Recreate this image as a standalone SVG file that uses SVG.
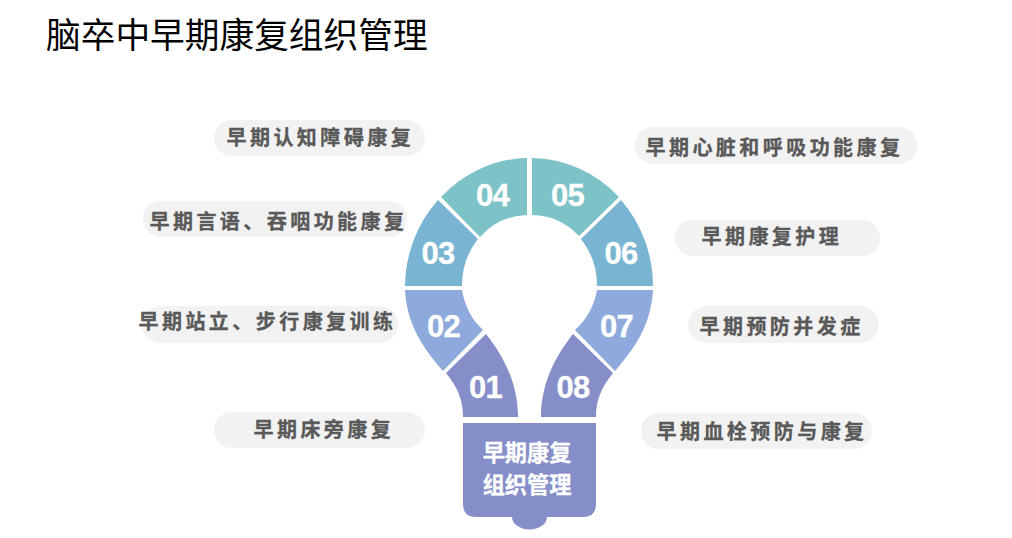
<svg xmlns="http://www.w3.org/2000/svg" width="1012" height="538" viewBox="0 0 1012 538">
<style>
.title{font-family:"Noto Sans CJK SC","Noto Sans",sans-serif;font-size:34.7px;fill:#000}
.pill{fill:#f2f2f2}
.lab{font-family:"Noto Sans CJK SC","Noto Sans",sans-serif;font-size:20px;font-weight:700;letter-spacing:3.45px;fill:#595959;stroke:#595959;stroke-width:.3px}
.num{font-family:"Liberation Sans",Arial,sans-serif;font-size:31px;font-weight:700;letter-spacing:-.7px;fill:#fff;stroke:#fff;stroke-width:.3px}
.core{font-family:"Noto Sans CJK SC","Noto Sans",sans-serif;font-size:22.2px;font-weight:700;fill:#fff;stroke:#fff;stroke-width:.3px;text-anchor:middle}
.c1{fill:#858EC8}.c2{fill:#8EA9DB}.c3{fill:#79B5D2}.c4{fill:#7CC2C7}
</style>
<rect width="1012" height="538" fill="#fff"/>
<text class="title" x="46" y="48">脑卒中早期康复组织管理</text>
<g id="bulb-base">
<path class="c1" d="M463 423H596V504Q596 517 583 517H547A17.5 12.5 0 0 1 512 517H476Q463 517 463 504Z"/>
<text class="core" x="527" y="461">早期康复</text>
<text class="core" x="527" y="493">组织管理</text>
</g>
<g id="node-01">
<path class="c1" d="M486 334L446 373C458 388 463 400 463 417H518C518 385 505 358 486 334Z"/>
<text class="num" x="469" y="398">01</text>
<rect class="pill" x="214" y="412" width="211" height="36" rx="18"/>
<text class="lab" x="253.500" y="437">早期床旁康复</text>
</g>
<g id="node-02">
<path class="c2" d="M405 290C407 325 423 348 443 371L483 330C472 320 465 307 462 290Z"/>
<text class="num" x="427" y="337">02</text>
<rect class="pill" x="142" y="306" width="256" height="37" rx="18.5"/>
<text class="lab" x="138.500" y="329">早期站立、步行康复训练</text>
</g>
<g id="node-03">
<path class="c3" d="M438 200A124 129 0 0 0 405 286H462A67.5 72 0 0 1 478 239Z"/>
<text class="num" x="421.500" y="264">03</text>
<rect class="pill" x="143" y="201" width="264" height="36" rx="18"/>
<text class="lab" x="149.500" y="229">早期言语、吞咽功能康复</text>
</g>
<g id="node-04">
<path class="c4" d="M527 158A124 129 0 0 0 441 197L480 237A67.500 72 0 0 1 527 215Z"/>
<text class="num" x="476" y="206">04</text>
<rect class="pill" x="214" y="120" width="211" height="36" rx="18"/>
<text class="lab" x="226.500" y="145">早期认知障碍康复</text>
</g>
<g id="node-05">
<path class="c4" d="M532 158A124 129 0 0 1 619 197L579 236A67.500 72 0 0 0 532 215Z"/>
<text class="num" x="551" y="206">05</text>
<rect class="pill" x="635" y="127" width="282" height="37" rx="18.5"/>
<text class="lab" x="645.500" y="155">早期心脏和呼吸功能康复</text>
</g>
<g id="node-06">
<path class="c3" d="M621 200A124 129 0 0 1 653 286H597A67.500 72 0 0 0 581 239Z"/>
<text class="num" x="604.500" y="264">06</text>
<rect class="pill" x="675" y="220" width="205" height="36" rx="18"/>
<text class="lab" x="701.500" y="244">早期康复护理</text>
</g>
<g id="node-07">
<path class="c2" d="M653 290C651 325 635 348 615 371L575 330C586 320 594 307 597 290Z"/>
<text class="num" x="600" y="337">07</text>
<rect class="pill" x="688" y="306" width="191" height="37" rx="18.5"/>
<text class="lab" x="699.500" y="334">早期预防并发症</text>
</g>
<g id="node-08">
<path class="c1" d="M573 334L613 373C601 388 596 400 596 417H541C541 385 554 358 573 334Z"/>
<text class="num" x="556.500" y="398">08</text>
<rect class="pill" x="641" y="413" width="231" height="36" rx="18"/>
<text class="lab" x="656.500" y="439">早期血栓预防与康复</text>
</g>
<g id="connectors"/>
</svg>
